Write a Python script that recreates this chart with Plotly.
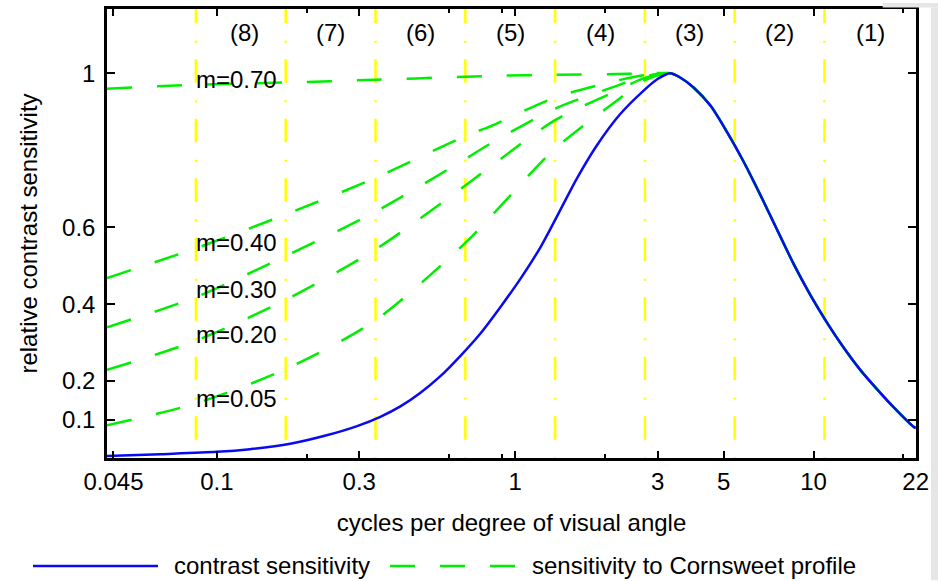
import math
import plotly.graph_objects as go

# ---------------- data ----------------
# contrast sensitivity curve (blue)
cs_freq = [0.0428, 0.0646, 0.1, 0.129, 0.176, 0.228, 0.295, 0.353, 0.412, 0.480,
           0.560, 0.654, 0.763, 0.891, 1.039, 1.213, 1.380, 1.610, 1.879, 2.249,
           2.694, 3.0, 3.31, 3.57, 3.96, 4.51, 5.13, 5.83, 6.63, 7.54,
           8.58, 9.75, 11.09, 12.61, 14.34, 16.31, 18.54, 21.64, 22.0]
cs_value = [0.005, 0.010, 0.016, 0.023, 0.037, 0.057, 0.083, 0.107, 0.134, 0.169,
            0.212, 0.265, 0.323, 0.392, 0.465, 0.547, 0.628, 0.727, 0.813, 0.894,
            0.955, 0.985, 1.0, 0.989, 0.963, 0.916, 0.847, 0.770, 0.684, 0.594,
            0.504, 0.424, 0.352, 0.287, 0.229, 0.179, 0.132, 0.081, 0.078]

# sensitivity to Cornsweet profile (green dashed), low-frequency side up to the peak
corn_freq = [0.0428, 0.085, 0.17, 0.34, 0.68, 0.825, 1.36, 2.2, 2.72, 3.31]
corn_m070 = [0.960, 0.970, 0.976, 0.983, 0.991, 0.993, 0.996, 0.998, 0.999, 1.0]
corn_m040 = [0.468, 0.545, 0.633, 0.728, 0.837, 0.862, 0.937, 0.981, 0.995, 1.0]
corn_m030 = [0.340, 0.418, 0.525, 0.640, 0.777, 0.817, 0.908, 0.968, 0.992, 1.0]
corn_m020 = [0.229, 0.305, 0.411, 0.542, 0.708, 0.757, 0.878, 0.955, 0.988, 1.0]
corn_m005 = [0.085, 0.142, 0.231, 0.358, 0.559, 0.626, 0.804, 0.930, 0.982, 1.0]
m_labels = ["m=0.70", "m=0.40", "m=0.30", "m=0.20", "m=0.05"]
m_label_y = [0.974, 0.549, 0.426, 0.310, 0.143]
m_label_x = 0.0835

# octave band boundaries (yellow dash-dot) and band labels
band_edges = [0.085, 0.17, 0.34, 0.68, 1.36, 2.72, 5.44, 10.88]
band_labels = ["(8)", "(7)", "(6)", "(5)", "(4)", "(3)", "(2)", "(1)"]
band_label_freq = [0.124, 0.240, 0.481, 0.962, 1.924, 3.85, 7.70, 15.47]
band_label_y = 1.096

x_tick_vals = [0.045, 0.1, 0.3, 1, 3, 5, 10, 22]
x_tick_text = ["0.045", "0.1", "0.3", "1", "3", "5", "10", "22"]
x_minor_vals = [0.2, 0.6, 0.9, 2, 20]
y_tick_vals = [0.1, 0.2, 0.4, 0.6, 1]
y_tick_text = ["0.1", "0.2", "0.4", "0.6", "1"]

x_title = "cycles per degree of visual angle"
y_title = "relative contrast sensitivity"
legend_names = ["contrast sensitivity", "sensitivity to Cornsweet profile"]

# ---------------- figure ----------------
W, H = 938, 581
ML, MR, MT, MB = 107, 22, 6, 123
PW, PH = W - ML - MR, H - MT - MB
FONT = "Liberation Sans, Arial, Helvetica, sans-serif"
FS = 24
BLUE = "rgb(10,10,240)"
GREEN = "rgb(0,238,0)"
YELLOW = "rgb(255,255,0)"

Y_MAX = 1.167
TEXT_LIFT = 0.011   # annotation boxes sit a little low relative to glyphs


def pxx(px):
    return (px - ML) / PW


def pxy(py):
    return (MT + PH - py) / PH


fig = go.Figure()

# yellow octave boundaries (start slightly below the axis so the dash phase matches)
for f in band_edges:
    fig.add_trace(go.Scatter(
        x=[f, f], y=[-0.107, Y_MAX], mode="lines",
        line=dict(color=YELLOW, width=2.5, dash="23.5px,16.5px,2px,17.5px"),
        hoverinfo="skip", showlegend=False))

# green Cornsweet curves: low-frequency part + (shared) high-frequency part of the CSF
peak_idx = cs_value.index(max(cs_value))
hi_freq = cs_freq[peak_idx + 1:]
hi_val = cs_value[peak_idx + 1:]
for name, vals in zip(m_labels, [corn_m070, corn_m040, corn_m030, corn_m020, corn_m005]):
    fig.add_trace(go.Scatter(
        x=corn_freq + hi_freq, y=vals + hi_val, mode="lines",
        line=dict(color=GREEN, width=2.5, dash="25px,25px", shape="spline", smoothing=0.8),
        name=legend_names[1] + " " + name, showlegend=False))

# blue contrast sensitivity
fig.add_trace(go.Scatter(
    x=cs_freq, y=cs_value, mode="lines",
    line=dict(color=BLUE, width=2.5, shape="spline", smoothing=0.8),
    name=legend_names[0], showlegend=False))

annotations = []
for t, y in zip(m_labels, m_label_y):
    annotations.append(dict(x=math.log10(m_label_x), y=y + TEXT_LIFT, xref="x", yref="y",
                            text=t, showarrow=False, xanchor="left", yanchor="middle",
                            font=dict(family=FONT, size=FS, color="black")))
for t, f in zip(band_labels, band_label_freq):
    annotations.append(dict(x=math.log10(f), y=band_label_y + TEXT_LIFT, xref="x", yref="y",
                            text=t, showarrow=False, xanchor="center", yanchor="middle",
                            font=dict(family=FONT, size=FS, color="black")))

# hand-made legend below the axes (long line samples as in the reference)
LEG_Y = 566.7
shapes = [
    dict(type="line", xref="paper", yref="paper", x0=pxx(33), x1=pxx(158),
         y0=pxy(LEG_Y), y1=pxy(LEG_Y), line=dict(color=BLUE, width=2.5)),
    dict(type="line", xref="paper", yref="paper", x0=pxx(390), x1=pxx(515),
         y0=pxy(LEG_Y), y1=pxy(LEG_Y), line=dict(color=GREEN, width=2.5, dash="25px,25px")),
    # light gray window strips at the right / top-right edge
    dict(type="rect", xref="paper", yref="paper", x0=pxx(931), x1=pxx(938),
         y0=pxy(581), y1=pxy(4.5), fillcolor="rgb(230,230,230)", line=dict(width=0), layer="above"),
    dict(type="rect", xref="paper", yref="paper", x0=pxx(882.7), x1=pxx(938),
         y0=pxy(4.5), y1=pxy(0), fillcolor="rgb(230,230,230)", line=dict(width=0), layer="above"),
]
annotations.append(dict(x=pxx(171.7), y=pxy(LEG_Y), xref="paper", yref="paper",
                        text=legend_names[0], showarrow=False, xanchor="left", yanchor="middle",
                        font=dict(family=FONT, size=FS, color="black")))
annotations.append(dict(x=pxx(530), y=pxy(LEG_Y), xref="paper", yref="paper",
                        text=legend_names[1], showarrow=False, xanchor="left", yanchor="middle",
                        font=dict(family=FONT, size=FS, color="black")))

fig.update_layout(
    width=W, height=H,
    margin=dict(l=ML, r=MR, t=MT, b=MB, pad=0),
    paper_bgcolor="white", plot_bgcolor="white",
    font=dict(family=FONT, size=FS, color="black"),
    showlegend=False,
    annotations=annotations,
    shapes=shapes,
    xaxis=dict(
        type="log", range=[math.log10(0.0428), math.log10(22.05)],
        tickmode="array", tickvals=x_tick_vals, ticktext=x_tick_text,
        ticks="inside", ticklen=7, tickwidth=2, tickcolor="black",
        minor=dict(tickmode="array", tickvals=x_minor_vals, ticks="inside",
                   ticklen=4, tickwidth=2, tickcolor="black", showgrid=False),
        showline=True, linecolor="black", linewidth=2.5, mirror="ticks",
        showgrid=False, zeroline=False,
        tickfont=dict(family=FONT, size=FS, color="black"),
        title=dict(text=x_title, font=dict(family=FONT, size=FS, color="black"), standoff=21),
    ),
    yaxis=dict(
        range=[0, Y_MAX],
        tickmode="array", tickvals=y_tick_vals, ticktext=y_tick_text,
        ticks="inside", ticklen=8, tickwidth=2, tickcolor="black",
        ticklabelstandoff=4,
        showline=True, linecolor="black", linewidth=2.5, mirror="ticks",
        showgrid=False, zeroline=False,
        tickfont=dict(family=FONT, size=FS, color="black"),
        title=dict(text=y_title, font=dict(family=FONT, size=FS, color="black"), standoff=18),
    ),
)

fig.write_html("out.html", config={"displayModeBar": False},
               post_script="document.body.style.margin='0';document.body.style.overflow='hidden';")
